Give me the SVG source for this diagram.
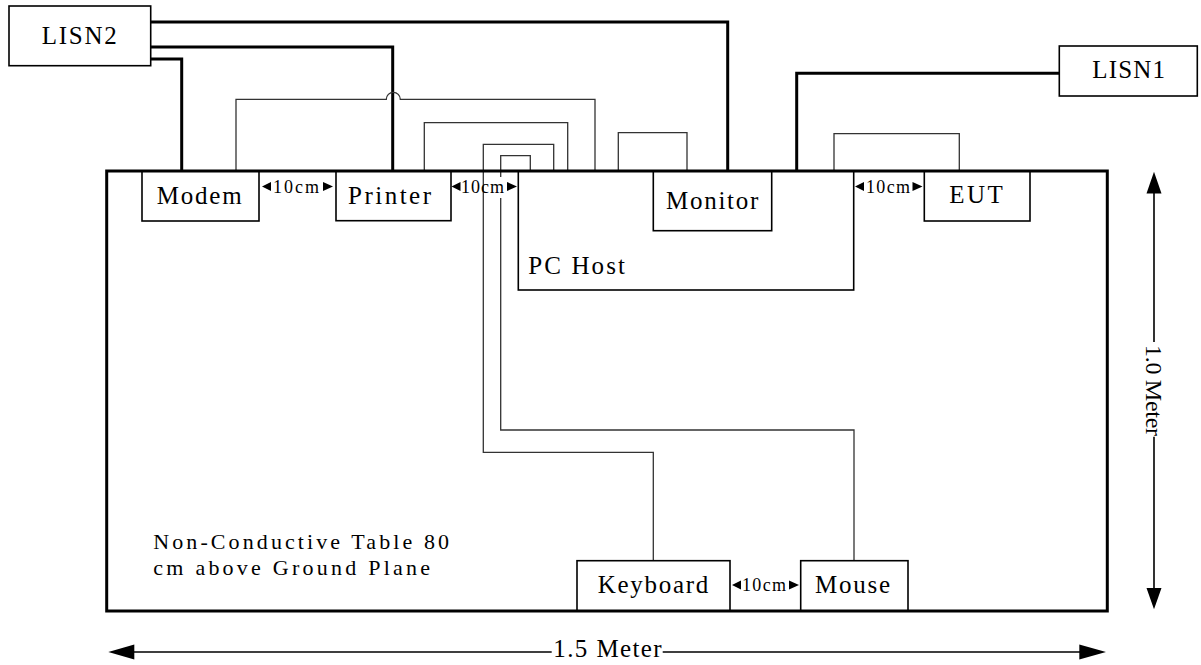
<svg xmlns="http://www.w3.org/2000/svg" width="1201" height="665" viewBox="0 0 1201 665">
<style>
.bg{fill:#fff}
.box{fill:#fff;stroke:#000;stroke-width:1.6}
.table{fill:none;stroke:#000;stroke-width:3}
.power{fill:none;stroke:#000;stroke-width:3}
.sig{fill:none;stroke:#333;stroke-width:1.3}
.dim{fill:none;stroke:#000;stroke-width:1.6}
.head{fill:#000}
.lbl{font-family:"Liberation Serif","Times New Roman",serif;font-size:25px;fill:#000}
.note{font-family:"Liberation Serif","Times New Roman",serif;font-size:22px;fill:#000}
.vl{font-family:"Liberation Serif","Times New Roman",serif;font-size:24px;fill:#000}
.sp{font-family:"Liberation Serif","Times New Roman",serif;font-size:18px;fill:#000}
</style>
<rect class="bg" x="0" y="0" width="1201" height="665"/>

<g id="connectors">
  <path class="power" d="M151,22 H727.7 V171"/>
  <path class="power" d="M151,47 H392.7 V171"/>
  <path class="power" d="M150,59 H181.7 V171"/>
  <path class="power" d="M1059,73.3 H796.7 V171"/>
  <path class="sig" d="M236,171 V99.3 H386.3 A7,7 0 0 1 400.3,99.3 H595 V171"/>
  <path class="sig" d="M424.3,171 V122.7 H567.7 V171"/>
  <path class="sig" d="M553.7,172 V144.3 H483.3 V452.3 H653.3 V560.7"/>
  <path class="sig" d="M530.3,171 V155.7 H500.7 V177 M500.7,198 V430 H854 V560.7"/>
  <path class="sig" d="M618.3,171 V132.7 H687 V171"/>
  <path class="sig" d="M834,171 V133.7 H959.3 V171"/>
</g>

<g id="lisn2"><rect class="box" x="9" y="6" width="141.7" height="59.7"/><text class="lbl" x="41.7" y="44" textLength="75" lengthAdjust="spacing">LISN2</text></g>
<g id="lisn1"><rect class="box" x="1059.3" y="46" width="138" height="50"/><text class="lbl" x="1092.3" y="77.7" textLength="72.7" lengthAdjust="spacing">LISN1</text></g>

<g id="pc-host"><rect class="box" x="518.3" y="171" width="335.4" height="119"/><text class="lbl" x="528.3" y="274.3" textLength="96.7" lengthAdjust="spacing">PC Host</text></g>
<g id="modem"><rect class="box" x="142" y="171" width="117" height="50"/><text class="lbl" x="156.7" y="204.3" textLength="85" lengthAdjust="spacing">Modem</text></g>
<g id="printer"><rect class="box" x="336" y="171" width="115" height="49.7"/><text class="lbl" x="348" y="204" textLength="83" lengthAdjust="spacing">Printer</text></g>
<g id="monitor"><rect class="box" x="653.3" y="171" width="118.4" height="59.7"/><text class="lbl" x="666" y="209" textLength="92.3" lengthAdjust="spacing">Monitor</text></g>
<g id="eut"><rect class="box" x="924.3" y="171" width="105.7" height="50"/><text class="lbl" x="949.3" y="202.7" textLength="53.4" lengthAdjust="spacing">EUT</text></g>
<g id="keyboard"><rect class="box" x="577" y="560.7" width="153" height="50.3"/><text class="lbl" x="597.7" y="593.3" textLength="110.6" lengthAdjust="spacing">Keyboard</text></g>
<g id="mouse"><rect class="box" x="800.7" y="560.7" width="107.3" height="50.3"/><text class="lbl" x="815" y="593.3" textLength="75" lengthAdjust="spacing">Mouse</text></g>

<g id="table">
  <rect class="table" x="106.7" y="171" width="1000.6" height="440"/>
  <text class="note" x="153.3" y="549" textLength="295.7" lengthAdjust="spacing">Non-Conductive Table 80</text>
  <text class="note" x="153.3" y="574.5" textLength="276.7" lengthAdjust="spacing">cm above Ground Plane</text>
</g>

<g id="spacings">
  <polygon class="head" points="262,186.5 271,182 271,191"/>
  <text class="sp" x="273" y="192.5" textLength="46" lengthAdjust="spacing">10cm</text>
  <polygon class="head" points="333,186.5 323,182 323,191"/>

  <polygon class="head" points="451.5,186.5 460.5,182 460.5,191"/>
  <text class="sp" x="461" y="192.5" textLength="43" lengthAdjust="spacing">10cm</text>
  <polygon class="head" points="517,186.5 507,182 507,191"/>

  <polygon class="head" points="855,186.5 864,182 864,191"/>
  <text class="sp" x="866" y="192.5" textLength="44" lengthAdjust="spacing">10cm</text>
  <polygon class="head" points="922.5,186.5 912.5,182 912.5,191"/>

  <polygon class="head" points="732,585 741,580.5 741,589.5"/>
  <text class="sp" x="742" y="591" textLength="44" lengthAdjust="spacing">10cm</text>
  <polygon class="head" points="799,585 789,580.5 789,589.5"/>
</g>

<g id="dimensions">
  <path class="dim" d="M130,652 H551.7 M662.7,652 H1082"/>
  <polygon class="head" points="108.3,652 134.3,644.5 134.3,659.5"/>
  <polygon class="head" points="1106,652 1079.3,644.5 1079.3,659.5"/>
  <text class="lbl" x="553.3" y="657.3" textLength="108.4" lengthAdjust="spacing">1.5 Meter</text>

  <path class="dim" d="M1154,190 V342 M1154,436.7 V591"/>
  <polygon class="head" points="1154,171.7 1146.5,193.5 1161.5,193.5"/>
  <polygon class="head" points="1154,609.3 1146.5,588 1161.5,588"/>
  <text class="vl" transform="translate(1146,345) rotate(90)" x="0" y="0" textLength="91" lengthAdjust="spacing">1.0 Meter</text>
</g>
</svg>
